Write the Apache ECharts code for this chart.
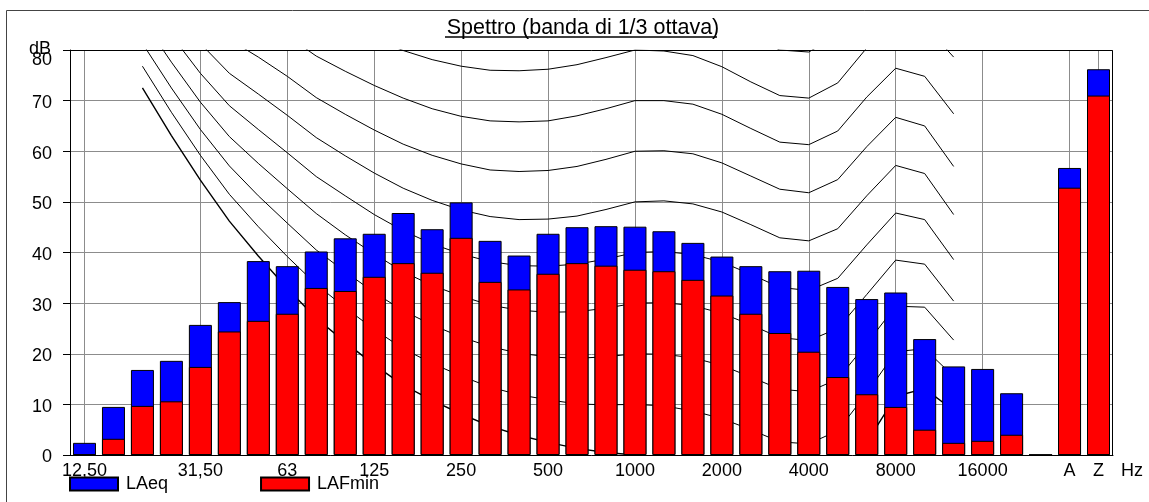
<!DOCTYPE html>
<html>
<head>
<meta charset="utf-8">
<script src="https://cdn.jsdelivr.net/npm/echarts@6/dist/echarts.min.js"></script>
<style>
  html, body { margin: 0; padding: 0; background: #fff; }
  #chart { width: 1149px; height: 502px; }
</style>
</head>
<body>
<div id="chart"></div>
<script>
// 1/3-octave band centres, then the empty gap and the A / Z totals
const bands = ['12,50','16','20','25','31,50','40','50','63','80','100','125','160','200','250','315','400','500','630','800','1000','1250','1600','2000','2500','3150','4000','5000','6300','8000','10000','12500','16000','20000','','A','Z'];
// bands that carry a tick label and a vertical grid line
const labelledBands = ['12,50','31,50','63','125','250','500','1000','2000','4000','8000','16000','A','Z'];

// measured levels, dB
const laeq   = [2.4, 9.5, 16.8, 18.6, 25.7, 30.2, 38.3, 37.3, 40.2, 42.8, 43.7, 47.8, 44.6, 49.9, 42.3, 39.4, 43.7, 45.0, 45.2, 45.1, 44.2, 41.9, 39.2, 37.3, 36.3, 36.4, 33.2, 30.8, 32.1, 22.9, 17.5, 17.0, 12.2, 0, 56.7, 76.2];
const lafmin = [0, 3.2, 9.7, 10.6, 17.4, 24.4, 26.5, 27.9, 33.0, 32.4, 35.2, 37.9, 36.0, 42.9, 34.2, 32.7, 35.8, 37.9, 37.4, 36.6, 36.3, 34.6, 31.5, 27.9, 24.1, 20.4, 15.4, 12.0, 9.5, 5.0, 2.4, 2.8, 4.0, 0, 52.8, 71.0];

// equal-loudness contours 0 ... 90 phon, 20 Hz ... 12500 Hz (dB)
const phon0  = [72.5, 63.1, 54.3, 46.2, 39.3, 32.9, 27.0, 22.3, 17.8, 13.8, 10.8, 8.1, 5.7, 3.9, 2.5, 1.3, 0.5, 0.0, -0.7, -1.9, -3.5, -5.7, -8.1, -8.3, -5.4, 2.5, 11.6, 13.1, 8.8];
const phon10 = [76.8, 67.7, 59.2, 51.5, 45.1, 39.2, 33.7, 29.1, 24.8, 21.0, 18.1, 15.6, 13.4, 11.9, 10.9, 10.1, 9.9, 10.0, 9.7, 8.7, 7.2, 5.0, 2.6, 2.2, 4.8, 12.2, 20.4, 21.0, 15.5];
const phon20 = [81.3, 72.5, 64.3, 57.1, 51.2, 45.8, 40.5, 36.2, 32.1, 28.5, 25.7, 23.3, 21.4, 20.1, 19.4, 19.1, 19.4, 20.0, 19.9, 19.2, 17.7, 15.4, 13.0, 12.5, 15.0, 22.0, 29.4, 29.2, 22.7];
const phon30 = [86.0, 77.6, 69.7, 62.9, 57.6, 52.6, 47.7, 43.5, 39.7, 36.2, 33.5, 31.4, 29.6, 28.6, 28.2, 28.3, 29.0, 30.0, 30.1, 29.5, 28.0, 25.7, 23.2, 22.6, 25.0, 31.7, 38.5, 37.7, 30.4];
const phon40 = [91.0, 82.9, 75.4, 69.0, 64.3, 59.7, 55.0, 51.2, 47.5, 44.3, 41.7, 39.7, 38.2, 37.4, 37.3, 37.7, 38.7, 40.0, 40.2, 39.6, 38.1, 35.7, 33.1, 32.5, 34.9, 41.5, 47.8, 46.5, 38.6];
const phon50 = [96.2, 88.5, 81.3, 75.4, 71.3, 67.1, 62.7, 59.1, 55.7, 52.7, 50.3, 48.4, 47.1, 46.5, 46.6, 47.2, 48.5, 50.0, 50.2, 49.6, 48.0, 45.5, 42.9, 42.3, 44.7, 51.2, 57.2, 55.6, 47.5];
const phon60 = [101.7, 94.4, 87.6, 82.1, 78.6, 74.8, 70.6, 67.3, 64.2, 61.4, 59.2, 57.5, 56.3, 56.0, 56.2, 57.0, 58.4, 60.0, 60.1, 59.5, 57.7, 55.1, 52.5, 51.8, 54.4, 60.9, 66.7, 65.0, 57.0];
const phon70 = [107.6, 100.7, 94.3, 89.2, 86.4, 82.8, 78.8, 75.8, 73.0, 70.5, 68.4, 66.9, 66.0, 65.8, 66.0, 67.0, 68.4, 70.0, 70.0, 69.3, 67.3, 64.5, 61.8, 61.3, 64.0, 70.7, 76.4, 74.8, 67.4];
const phon80 = [113.7, 107.3, 101.3, 96.6, 94.6, 91.1, 87.4, 84.7, 82.2, 79.9, 78.1, 76.8, 76.0, 75.9, 76.2, 77.1, 78.5, 80.0, 79.8, 78.9, 76.7, 73.7, 71.0, 70.5, 73.5, 80.4, 86.3, 84.9, 78.6];
const phon90 = [120.3, 114.4, 108.7, 104.4, 103.2, 99.8, 96.3, 94.0, 91.8, 89.8, 88.1, 87.0, 86.4, 86.4, 86.6, 87.5, 88.7, 90.0, 89.5, 88.4, 85.9, 82.7, 80.0, 79.6, 82.9, 90.1, 96.3, 95.5, 90.9];
const contours = [phon0, phon10, phon20, phon30, phon40, phon50, phon60, phon70, phon80, phon90];
const contourFirstBand = bands.indexOf('20');

const FONT = '"Liberation Sans", Arial, sans-serif';

// place a contour on the band axis (null outside 20 Hz .. 12500 Hz)
function onBands(values) {
  const out = bands.map(() => null);
  values.forEach((v, i) => { out[contourFirstBand + i] = v; });
  return out;
}

const contourSeries = contours.map((c, k) => ({
  type: 'line',
  name: 'contour' + k,
  data: onBands(c),
  symbol: 'none',
  silent: true,
  clip: true,
  z: 6,
  // the hearing-threshold (0 phon) line is drawn a little heavier
  lineStyle: { color: '#000', width: k === 0 ? 1.4 : 1 },
  itemStyle: { color: '#000' },
  animation: false
}));

const chart = echarts.init(document.getElementById('chart'), null, { renderer: 'canvas' });

chart.setOption({
  animation: false,
  backgroundColor: '#fff',
  title: {
    text: 'Spettro (banda di 1/3 ottava)',
    left: 578,
    top: 12,
    textAlign: 'center',
    textStyle: { fontFamily: FONT, fontSize: 21.5, fontWeight: 'normal', color: '#000' }
  },
  legend: {
    left: 69,
    top: 475,
    padding: 0,
    itemWidth: 48,
    itemHeight: 13,
    itemGap: 92,
    icon: 'rect',
    selectedMode: false,
    data: ['LAeq', 'LAFmin'],
    textStyle: { fontFamily: FONT, fontSize: 18, color: '#000', padding: [8, 0, 0, 3] }
  },
  grid: { left: 70, right: 36, top: 50, bottom: 47, show: false },
  xAxis: {
    type: 'category',
    data: bands,
    boundaryGap: true,
    axisLine: { show: true, onZero: false, lineStyle: { color: '#000', width: 1 } },
    axisTick: { show: false },
    splitLine: { show: false },
    axisLabel: {
      interval: (i, v) => labelledBands.includes(v),
      margin: 7,
      fontFamily: FONT,
      fontSize: 18,
      color: '#000'
    }
  },
  yAxis: {
    type: 'value',
    min: 0,
    max: 80,
    interval: 10,
    axisLine: { show: true, lineStyle: { color: '#000', width: 1 } },
    axisTick: { show: true, length: 7, lineStyle: { color: '#000' } },
    splitLine: { show: true, lineStyle: { color: '#8c8c8c', width: 1 } },
    axisLabel: {
      margin: 18,
      fontFamily: FONT,
      fontSize: 18,
      color: '#000',
      formatter: v => (v === 80 ? '{top|' + v + '}' : '{n|' + v + '}'),
      rich: {
        top: { fontFamily: FONT, fontSize: 18, color: '#000', padding: [21, 0, 0, 0] },
        n: { fontFamily: FONT, fontSize: 18, color: '#000', padding: [5, 0, 0, 0] }
      }
    }
  },
  graphic: [
    // outer frame of the report panel
    { type: 'rect', silent: true, z: 0,
      shape: { x: 6.5, y: 10.5, width: 1300, height: 700 },
      style: { fill: null, stroke: '#444', lineWidth: 1 } },
    // plot box: top and right edges (left and bottom come from the axes)
    { type: 'polyline', silent: true, z: 100,
      shape: { points: [[70.5, 50.5], [1112.5, 50.5], [1112.5, 455.5]] },
      style: { fill: null, stroke: '#000', lineWidth: 1 } },
    // title underline
    { type: 'line', silent: true, z: 100,
      shape: { x1: 445, y1: 37, x2: 717, y2: 37 },
      style: { stroke: '#000', lineWidth: 1.5 } },
    { type: 'text', silent: true, z: 100, left: 29, top: 40,
      style: { text: 'dB', font: '18px ' + FONT, fill: '#000' } },
    { type: 'text', silent: true, z: 100, left: 1121, top: 462,
      style: { text: 'Hz', font: '18px ' + FONT, fill: '#000' } }
  ],
  series: [
    {
      type: 'line',
      name: 'grid',
      data: [],
      silent: true,
      z: 1,
      markLine: {
        silent: true,
        z: 1,
        symbol: ['none', 'none'],
        label: { show: false },
        lineStyle: { color: '#8c8c8c', width: 1, type: 'solid' },
        data: labelledBands.map(b => ({ xAxis: b }))
      }
    },
    ...contourSeries,
    {
      type: 'bar',
      name: 'LAeq',
      data: laeq,
      barWidth: 23,
      barGap: '-100%',
      z: 10,
      itemStyle: { color: '#0000ff', borderColor: '#000', borderWidth: 1 }
    },
    {
      type: 'bar',
      name: 'LAFmin',
      data: lafmin,
      barWidth: 23,
      z: 11,
      itemStyle: { color: '#ff0000', borderColor: '#000', borderWidth: 1 }
    }
  ]
});
</script>
</body>
</html>
